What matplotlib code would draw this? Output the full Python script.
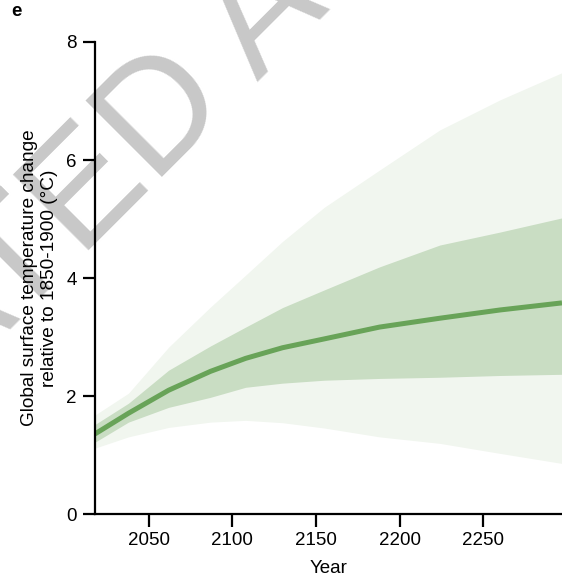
import numpy as np
import matplotlib.pyplot as plt
from matplotlib.transforms import IdentityTransform

plt.rcParams['font.family'] = ['Liberation Sans', 'DejaVu Sans']

# Values (deg C relative to 1850-1900)
years = [2018, 2038, 2062, 2087, 2108, 2130, 2155, 2188, 2224, 2260, 2297]
median = [1.36, 1.71, 2.10, 2.42, 2.64, 2.82, 2.97, 3.17, 3.32, 3.46, 3.58]
likely_hi = [1.52, 1.88, 2.44, 2.85, 3.17, 3.50, 3.80, 4.19, 4.56, 4.78, 5.02]
likely_lo = [1.22, 1.56, 1.81, 1.98, 2.15, 2.22, 2.27, 2.30, 2.32, 2.35, 2.37]
very_hi = [1.68, 2.05, 2.83, 3.51, 4.05, 4.62, 5.20, 5.83, 6.51, 7.02, 7.48]
very_lo = [1.12, 1.31, 1.47, 1.56, 1.59, 1.55, 1.46, 1.31, 1.20, 1.03, 0.86]

xticks = [2050, 2100, 2150, 2200, 2250]
yticks = [0, 2, 4, 6, 8]

fig = plt.figure(figsize=(5.62, 5.83), dpi=100)
ax = fig.add_axes([0.169, 0.118, 0.831, 0.810])
ax.set_facecolor('none')

ax.fill_between(years, very_lo, very_hi, color='#f1f6ef', lw=0)
ax.fill_between(years, likely_lo, likely_hi, color='#c9ddc3', lw=0)
ax.plot(years, median, color='#68a358', lw=3.6, solid_capstyle='butt')

ax.set_xlim(2018, 2297)
ax.set_ylim(0, 8)
ax.set_xticks(xticks)
ax.set_yticks(yticks)
for s in ['top', 'right']:
    ax.spines[s].set_visible(False)
for s in ['left', 'bottom']:
    ax.spines[s].set_linewidth(1.6)
ax.tick_params(length=9, width=1.6, labelsize=13.5, pad=4)

ax.set_xlabel('Year', fontsize=13.5, labelpad=8)
ax.set_ylabel('Global surface temperature change\nrelative to 1850-1900 (°C)',
              fontsize=13.7, labelpad=6)

fig.text(0.02, 0.995, 'e', fontsize=13.5, fontweight='bold', va='top', ha='left')

# journal watermark
fig.text(-571, -328, 'ACCELERATED ARTICLE PREVIEW', transform=IdentityTransform(),
         fontsize=112, color='#c8c8c8', rotation=45, rotation_mode='anchor',
         ha='left', va='baseline', zorder=-1)

fig.savefig('out.png', dpi=100)
